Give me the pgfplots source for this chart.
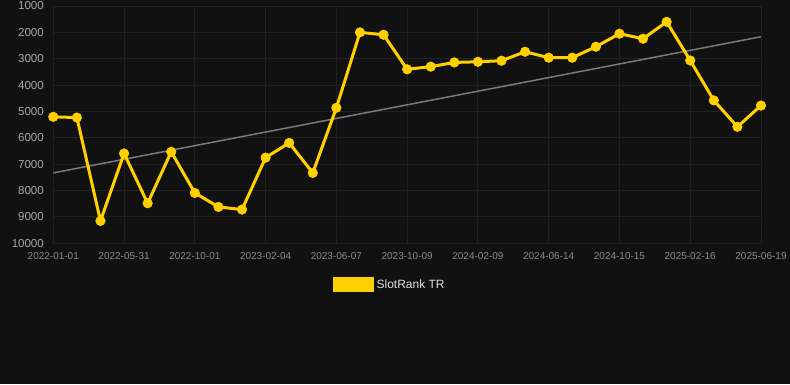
\documentclass[border=0pt]{standalone}
\usepackage{pgfplots}
\pgfplotsset{compat=1.18}
\usepackage{fontspec}
\setmainfont{Liberation Sans}
\definecolor{bg}{HTML}{111111}
\definecolor{gridc}{HTML}{212121}
\definecolor{yc}{HTML}{FFD000}
\definecolor{trendc}{HTML}{7A7A7A}
\definecolor{ylab}{HTML}{A8A8A8}
\definecolor{xlab}{HTML}{8C8C8C}
\definecolor{legt}{HTML}{E0E0E0}
\begin{document}
\begin{tikzpicture}[x=1pt,y=1pt]
\fill[bg] (0,0) rectangle (790,384);
\useasboundingbox (0,0) rectangle (790,384);
\begin{axis}[
  at={(53.3pt,140.7pt)}, anchor=south west,
  scale only axis, width=707.7pt, height=237.3pt,
  xmin=0, xmax=30, ymin=1000, ymax=10000,
  y dir=reverse,
  axis line style={draw=none},
  xtick={0,3,...,30},
  xticklabels={2022-01-01,2022-05-31,2022-10-01,2023-02-04,2023-06-07,2023-10-09,2024-02-09,2024-06-14,2024-10-15,2025-02-16,2025-06-19},
  ytick={1000,2000,...,10000},
  scaled y ticks=false,
  /pgf/number format/fixed,
  /pgf/number format/1000 sep={},
  /pgf/number format/assume math mode=true,
  grid=major,
  major grid style={draw=gridc, line width=1pt},
  major tick length=0pt,
  x tick label style={font=\fontsize{10}{12}\selectfont, text=xlab, yshift=-6pt},
  y tick label style={font=\fontsize{11.5}{13}\selectfont, text=ylab, xshift=-6pt, anchor=east},
  legend style={at={(0.476,-0.1736)}, anchor=center, draw=none, fill=none,
    text=legt, font=\fontsize{12}{14}\selectfont, inner sep=0pt,
    nodes={inner sep=3pt}},
  legend cell align=left,
  clip=false,
]
\addplot[trendc, line width=1.5pt, forget plot] coordinates {(0,7330) (30,2165)};
\addplot[yc, line width=3pt, mark=*, mark size=4.8pt, mark options={solid, fill=yc, draw=yc, line width=0.5pt},
  legend image code/.code={\fill[yc] (0pt,-5.7pt) rectangle (38pt,5.7pt);}]
coordinates {
(0,5204) (1,5230) (2,9150) (3,6594) (4,8480) (5,6530) (6,8090) (7,8620) (8,8720) (9,6750)
(10,6190) (11,7330) (12,4860) (13,2000) (14,2090) (15,3400) (16,3300) (17,3140) (18,3115) (19,3075)
(20,2735) (21,2960) (22,2960) (23,2545) (24,2050) (25,2240) (26,1600) (27,3065) (28,4580) (29,5580)
(30,4775)
};
\addlegendentry{SlotRank TR}
\end{axis}
\end{tikzpicture}
\end{document}
